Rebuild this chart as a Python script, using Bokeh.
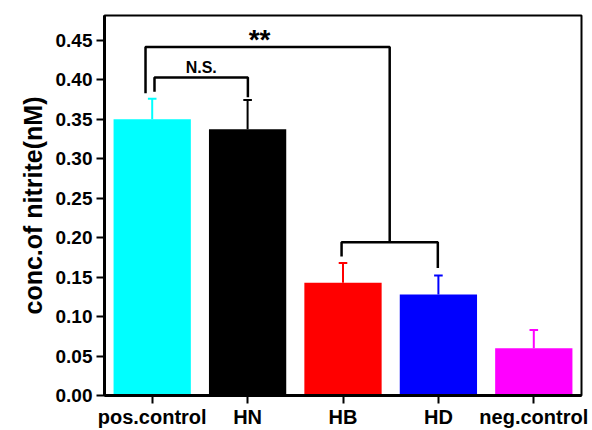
from bokeh.plotting import figure
from bokeh.models import Range1d, FixedTicker, NumeralTickFormatter, ColumnDataSource
from bokeh.embed import file_html
from bokeh.resources import INLINE
from bokeh.core.properties import value

categories = ["pos.control", "HN", "HB", "HD", "neg.control"]
means = [0.350, 0.3375, 0.143, 0.128, 0.060]
errors = [0.026, 0.037, 0.025, 0.024, 0.023]
colors = ["#00FFFF", "#000000", "#FF0000", "#0000FF", "#FF00FF"]
y_ticks = [0.00, 0.05, 0.10, 0.15, 0.20, 0.25, 0.30, 0.35, 0.40, 0.45]

# significance brackets (data coordinates): bracket levels and leg ends
ns_level = 0.403
ns_leg_ends = [0.385, 0.378]
star_level = 0.4415
star_left_end = 0.383
hbhd_level = 0.1943
hbhd_leg_ends = [0.176, 0.1614]
ns_label_y = 0.416
star_label_y = 0.451

FONT = "Liberation Sans"

xs = [i + 0.5 for i in range(len(categories))]
src = ColumnDataSource(dict(
    x=xs, top=means, color=colors,
    up=[m + e for m, e in zip(means, errors)],
    cap_l=[x - 0.045 for x in xs], cap_r=[x + 0.045 for x in xs],
))

p = figure(width=592, height=430, output_backend="svg", toolbar_location=None,
           x_range=Range1d(0, len(categories)), y_range=Range1d(0, 0.4815),
           min_border_left=104, min_border_right=11, min_border_top=15, min_border_bottom=34)

p.vbar(x="x", top="top", width=0.81, bottom=0, fill_color="color", line_color=None, source=src)
p.segment(x0="x", y0="top", x1="x", y1="up", line_color="color", line_width=2, source=src)
p.segment(x0="cap_l", y0="up", x1="cap_r", y1="up", line_color="color", line_width=2, source=src)

# N.S. bracket between pos.control and HN
ns_x = [xs[0] + 0.024, xs[1] + 0.003]
p.line([ns_x[0], ns_x[0], ns_x[1], ns_x[1]],
       [ns_leg_ends[0], ns_level, ns_level, ns_leg_ends[1]], line_color="black", line_width=2.5)
# HB/HD bracket
hb_x = [xs[2] - 0.015, xs[3] - 0.006]
p.line([hb_x[0], hb_x[0], hb_x[1], hb_x[1]],
       [hbhd_leg_ends[0], hbhd_level, hbhd_level, hbhd_leg_ends[1]], line_color="black", line_width=2.5)
# ** bracket from pos.control to HB/HD bracket
mid = (hb_x[0] + hb_x[1]) / 2
sx = xs[0] - 0.07
p.line([sx, sx, mid, mid], [star_left_end, star_level, star_level, hbhd_level],
       line_color="black", line_width=2.5)

p.text(x=[(ns_x[0] + ns_x[1]) / 2], y=[ns_label_y], text=["N.S."],
       text_font=value(FONT), text_font_style="bold", text_font_size="16px",
       text_align="center", text_baseline="alphabetic", text_color="black")
p.text(x=[1.625], y=[star_label_y], text=["**"],
       text_font=value(FONT), text_font_style="bold", text_font_size="28px",
       text_align="center", text_baseline="alphabetic", text_color="black")

p.xgrid.visible = False
p.ygrid.visible = False
p.outline_line_color = "black"
p.outline_line_width = 2
p.outline_line_alpha = 1

p.xaxis.ticker = FixedTicker(ticks=xs)
p.xaxis.major_label_overrides = {x: c for x, c in zip(xs, categories)}
p.yaxis.ticker = FixedTicker(ticks=y_ticks)
p.yaxis.formatter = NumeralTickFormatter(format="0.00")

for ax in (p.xaxis[0], p.yaxis[0]):
    ax.axis_line_width = 3
    ax.axis_line_color = "black"
    ax.major_tick_line_width = 2
    ax.major_tick_line_color = "black"
    ax.major_tick_out = 8
    ax.major_tick_in = 0
    ax.minor_tick_line_color = None
    ax.major_label_text_font = FONT
    ax.major_label_text_font_style = "bold"
    ax.major_label_text_color = "black"
    ax.major_label_standoff = 4

p.yaxis.major_label_text_font_size = "19px"
p.xaxis.major_label_text_font_size = "20px"
p.xaxis.major_label_standoff = 2

p.yaxis.axis_label = "conc.of nitrite(nM)"
p.yaxis.axis_label_text_font = FONT
p.yaxis.axis_label_text_font_style = "bold"
p.yaxis.axis_label_text_font_size = "25px"
p.yaxis.axis_label_text_color = "black"
p.yaxis.axis_label_standoff = 6

open("out.html", "w").write(file_html(p, INLINE))
